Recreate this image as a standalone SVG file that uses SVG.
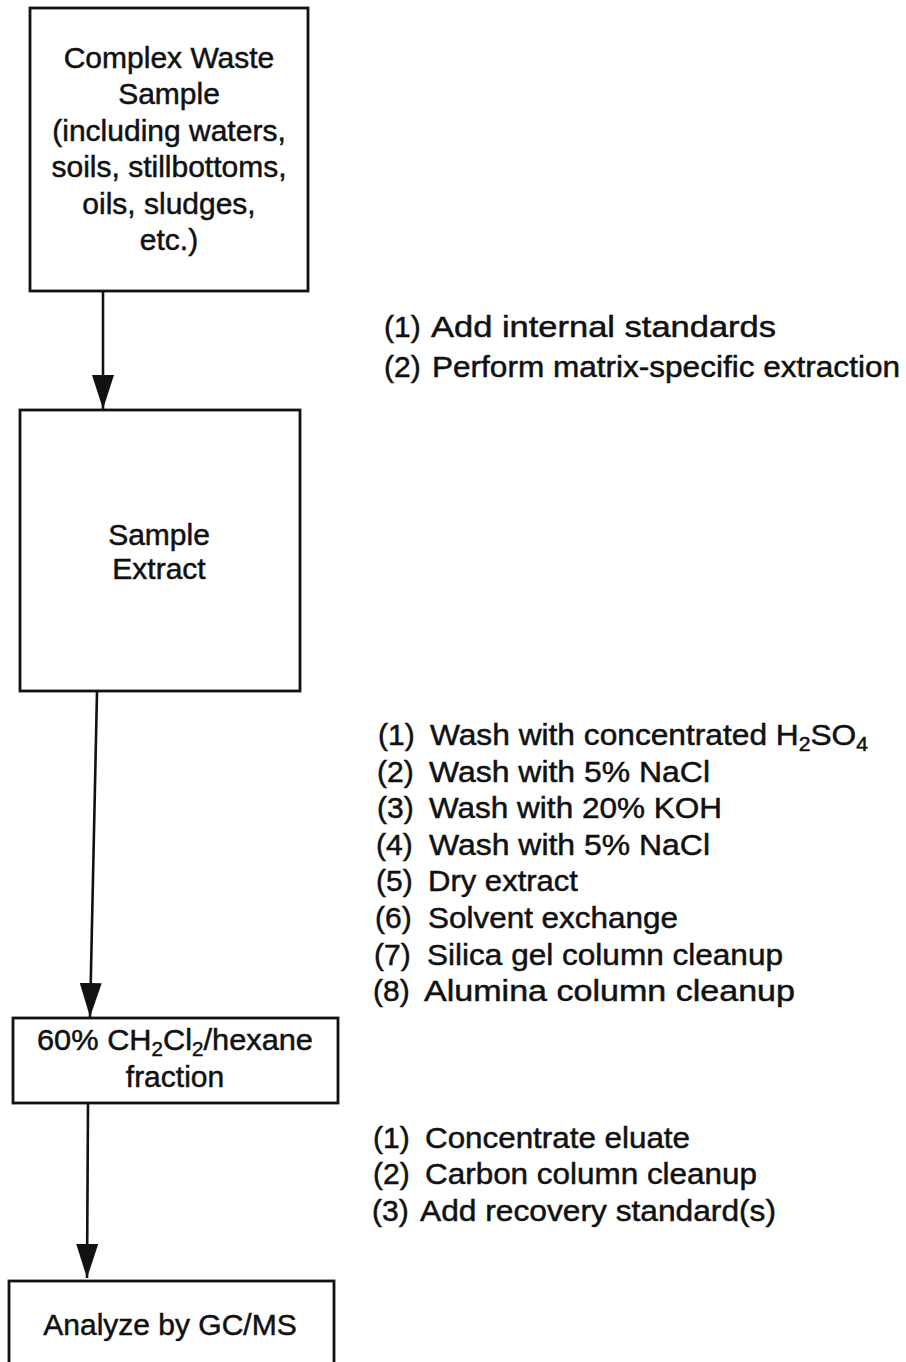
<svg xmlns="http://www.w3.org/2000/svg" width="906" height="1362" viewBox="0 0 906 1362">
  <style>
    .box { fill: #ffffff; stroke: #111111; stroke-width: 2.8; }
    .lbl { font-family: "Liberation Sans", Arial, sans-serif; font-size: 30px; fill: #111111; stroke: #111111; stroke-width: 0.5; text-anchor: middle; }
    .step { font-family: "Liberation Sans", Arial, sans-serif; font-size: 30px; fill: #111111; stroke: #111111; stroke-width: 0.5; }
    .sub { font-size: 20px; }
    .wire { stroke: #111111; stroke-width: 2.6; fill: none; marker-end: url(#head); }
  </style>
  <defs>
    <marker id="head" markerUnits="userSpaceOnUse" markerWidth="34" markerHeight="22" refX="34" refY="11" orient="auto" viewBox="0 0 34 22">
      <path d="M0,0 L34,11 L0,22 Z" fill="#111111"/>
    </marker>
  </defs>
  <rect width="906" height="1362" fill="#ffffff"/>

  <!-- connectors -->
  <g id="connectors">
    <line class="wire" x1="103" y1="291" x2="103" y2="409"/>
    <line class="wire" x1="97" y1="692" x2="90" y2="1017"/>
    <line class="wire" x1="88" y1="1103" x2="87" y2="1278"/>
  </g>

  <!-- process boxes -->
  <g id="node-sample">
    <rect class="box" x="30" y="8" width="278" height="283"/>
    <text class="lbl" x="169" y="68">Complex Waste</text>
    <text class="lbl" x="169" y="104">Sample</text>
    <text class="lbl" x="169" y="141">(including waters,</text>
    <text class="lbl" x="169" y="177">soils, stillbottoms,</text>
    <text class="lbl" x="169" y="214">oils, sludges,</text>
    <text class="lbl" x="169" y="250">etc.)</text>
  </g>

  <g id="node-extract">
    <rect class="box" x="20" y="410" width="280" height="281"/>
    <text class="lbl" x="159" y="545">Sample</text>
    <text class="lbl" x="159" y="579">Extract</text>
  </g>

  <g id="node-fraction">
    <rect class="box" x="13" y="1018" width="325" height="85"/>
    <text class="lbl" x="175" y="1050" textLength="276" lengthAdjust="spacingAndGlyphs">60% CH<tspan class="sub" dy="6">2</tspan><tspan dy="-6">Cl</tspan><tspan class="sub" dy="6">2</tspan><tspan dy="-6">/hexane</tspan></text>
    <text class="lbl" x="175" y="1087">fraction</text>
  </g>

  <g id="node-analyze">
    <rect class="box" x="9" y="1281" width="325" height="110"/>
    <text class="lbl" x="170" y="1335">Analyze by GC/MS</text>
  </g>

  <!-- step notes beside the connectors -->
  <g id="steps-extraction">
    <text class="step" x="384" y="337">(1)</text>
    <text class="step" x="431" y="337" textLength="345" lengthAdjust="spacingAndGlyphs">Add internal standards</text>
    <text class="step" x="384" y="377">(2)</text>
    <text class="step" x="432" y="377" textLength="468" lengthAdjust="spacingAndGlyphs">Perform matrix-specific extraction</text>
  </g>

  <g id="steps-cleanup">
    <text class="step" x="378" y="745">(1)</text>
    <text class="step" x="430" y="745" textLength="438" lengthAdjust="spacingAndGlyphs">Wash with concentrated H<tspan class="sub" dy="6">2</tspan><tspan dy="-6">SO</tspan><tspan class="sub" dy="6">4</tspan></text>
    <text class="step" x="377" y="782">(2)</text>
    <text class="step" x="429" y="782" textLength="281" lengthAdjust="spacingAndGlyphs">Wash with 5% NaCl</text>
    <text class="step" x="377" y="818">(3)</text>
    <text class="step" x="429" y="818" textLength="293" lengthAdjust="spacingAndGlyphs">Wash with 20% KOH</text>
    <text class="step" x="376" y="855">(4)</text>
    <text class="step" x="429" y="855" textLength="281" lengthAdjust="spacingAndGlyphs">Wash with 5% NaCl</text>
    <text class="step" x="376" y="891">(5)</text>
    <text class="step" x="428" y="891" textLength="150" lengthAdjust="spacingAndGlyphs">Dry extract</text>
    <text class="step" x="375" y="928">(6)</text>
    <text class="step" x="428" y="928" textLength="250" lengthAdjust="spacingAndGlyphs">Solvent exchange</text>
    <text class="step" x="374" y="965">(7)</text>
    <text class="step" x="427" y="965" textLength="356" lengthAdjust="spacingAndGlyphs">Silica gel column cleanup</text>
    <text class="step" x="373" y="1001">(8)</text>
    <text class="step" x="424" y="1001" textLength="371" lengthAdjust="spacingAndGlyphs">Alumina column cleanup</text>
  </g>

  <g id="steps-final">
    <text class="step" x="373" y="1148">(1)</text>
    <text class="step" x="425" y="1148" textLength="265" lengthAdjust="spacingAndGlyphs">Concentrate eluate</text>
    <text class="step" x="373" y="1184">(2)</text>
    <text class="step" x="425" y="1184" textLength="332" lengthAdjust="spacingAndGlyphs">Carbon column cleanup</text>
    <text class="step" x="372" y="1221">(3)</text>
    <text class="step" x="420" y="1221" textLength="356" lengthAdjust="spacingAndGlyphs">Add recovery standard(s)</text>
  </g>
</svg>
